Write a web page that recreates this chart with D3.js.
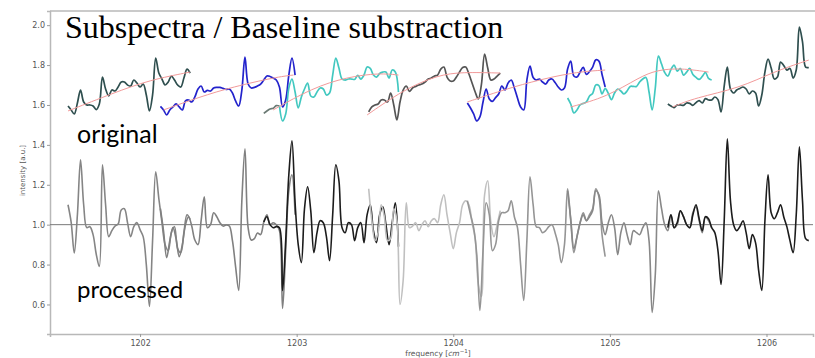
<!DOCTYPE html>
<html>
<head>
<meta charset="utf-8">
<script src="https://cdn.jsdelivr.net/npm/d3@7/dist/d3.min.js"></script>
<style>
    body { margin: 0; background: #fff; }
    svg { display: block; }
</style>
</head>
<body>
<div id="chart"></div>
<script>
// Frequency grid step of every subspectrum (cm^-1)
const step = 0.02;

// Raw subspectra: start frequency + intensities on the grid
const rawStarts = [1201.54, 1202.13, 1202.89, 1203.46, 1204.09, 1204.73, 1205.37];
const raw1 = [1.595, 1.575, 1.555, 1.61, 1.675, 1.615, 1.60, 1.60, 1.595, 1.577, 1.605, 1.74, 1.68, 1.645, 1.675, 1.67, 1.69, 1.715, 1.715, 1.70,
    1.695, 1.725, 1.71, 1.69, 1.705, 1.65, 1.57, 1.65, 1.835, 1.76, 1.73, 1.70, 1.715, 1.745, 1.725, 1.70, 1.69, 1.735, 1.78, 1.76];
const raw2 = [1.593, 1.575, 1.55, 1.575, 1.59, 1.605, 1.59, 1.575, 1.62, 1.625, 1.615, 1.64, 1.68, 1.695, 1.665, 1.673, 1.67, 1.685, 1.688, 1.688,
    1.683, 1.678, 1.68, 1.66, 1.62, 1.595, 1.675, 1.84, 1.705, 1.685, 1.688, 1.695, 1.705, 1.725, 1.745, 1.743, 1.735, 1.725, 1.69, 1.59,
    1.625, 1.75, 1.835, 1.75];
const raw3 = [1.595, 1.52, 1.555, 1.685, 1.73, 1.665, 1.585, 1.64, 1.68, 1.71, 1.645, 1.64, 1.665, 1.685, 1.68, 1.65, 1.66, 1.75, 1.835, 1.785,
    1.73, 1.725, 1.73, 1.73, 1.728, 1.748, 1.73, 1.75, 1.79, 1.783, 1.75, 1.74, 1.758, 1.765, 1.765, 1.735, 1.775, 1.765, 1.665];
const raw4 = [1.565, 1.59, 1.60, 1.605, 1.625, 1.625, 1.615, 1.66, 1.60, 1.525, 1.615, 1.675, 1.695, 1.668, 1.685, 1.693, 1.70, 1.705, 1.715, 1.73,
    1.735, 1.745, 1.75, 1.78, 1.79, 1.74, 1.72, 1.72, 1.74, 1.765, 1.788, 1.79, 1.755, 1.71, 1.665, 1.63, 1.705, 1.855, 1.785, 1.725,
    1.73, 1.745, 1.76];
const raw5 = [1.61, 1.585, 1.555, 1.52, 1.54, 1.615, 1.68, 1.63, 1.618, 1.637, 1.655, 1.695, 1.675, 1.71, 1.725, 1.685, 1.635, 1.59, 1.575, 1.725,
    1.795, 1.738, 1.725, 1.73, 1.715, 1.705, 1.725, 1.73, 1.713, 1.69, 1.675, 1.685, 1.78, 1.82, 1.745, 1.74, 1.765, 1.788, 1.753, 1.768,
    1.79, 1.826, 1.82, 1.753, 1.69];
const raw6 = [1.635, 1.605, 1.56, 1.575, 1.60, 1.608, 1.615, 1.645, 1.658, 1.70, 1.697, 1.655, 1.683, 1.658, 1.627, 1.66, 1.68, 1.67, 1.655, 1.67,
    1.693, 1.693, 1.693, 1.715, 1.73, 1.738, 1.665, 1.575, 1.685, 1.845, 1.805, 1.763, 1.745, 1.778, 1.80, 1.77, 1.783, 1.75, 1.765, 1.783,
    1.753, 1.738, 1.728, 1.743, 1.763, 1.733, 1.725];
const raw7 = [1.605, 1.595, 1.587, 1.60, 1.60, 1.598, 1.61, 1.608, 1.598, 1.612, 1.622, 1.61, 1.632, 1.625, 1.625, 1.64, 1.627, 1.565, 1.695, 1.79,
    1.68, 1.66, 1.675, 1.683, 1.69, 1.68, 1.655, 1.67, 1.66, 1.595, 1.65, 1.765, 1.83, 1.785, 1.73, 1.74, 1.815, 1.798, 1.775, 1.783,
    1.735, 1.775, 1.99, 1.916, 1.79, 1.788];

// Short grey piece in front of the third subspectrum
const stubStart = 1202.79;
const stub = [1.558, 1.57, 1.58, 1.583, 1.597, 1.595];

// Fitted baselines: [frequency, intensity]
const base1 = [[1201.54, 1.57], [1201.83, 1.66], [1202.06, 1.725], [1202.32, 1.765]];
const base2 = [[1202.15, 1.575], [1202.38, 1.64], [1202.59, 1.69], [1202.87, 1.74], [1202.98, 1.75]];
const base3 = [[1202.85, 1.575], [1203.10, 1.685], [1203.32, 1.74], [1203.53, 1.76], [1203.65, 1.75]];
const base4 = [[1203.45, 1.55], [1203.68, 1.675], [1203.90, 1.75], [1204.06, 1.765], [1204.30, 1.76]];
const base5 = [[1204.09, 1.615], [1204.28, 1.665], [1204.49, 1.715], [1204.77, 1.765], [1204.97, 1.775]];
const base6 = [[1204.75, 1.59], [1204.98, 1.64], [1205.19, 1.74], [1205.30, 1.775], [1205.45, 1.785], [1205.63, 1.765]];
const base7 = [[1205.40, 1.59], [1205.54, 1.635], [1205.83, 1.685], [1206.04, 1.765], [1206.27, 1.825]];

// Processed (baseline removed, normalised) subspectra
const procStarts = [1201.54, 1202.13, 1202.79, 1203.46, 1204.09, 1204.73, 1205.37];
const proc1 = [1.10, 1.013, 0.858, 1.05, 1.325, 1.10, 0.985, 0.99, 0.95, 0.853, 0.79, 1.30, 1.10, 0.94, 0.97, 0.993, 1.003, 1.074, 1.08, 1.01,
    0.94, 0.99, 1.01, 0.975, 0.94, 0.80, 0.59, 0.92, 1.265, 1.13, 1.01, 0.90, 0.87, 0.96, 0.99, 0.88, 0.86, 0.96, 1.05, 1.025];
const proc2 = [1.08, 0.968, 0.835, 0.92, 0.985, 0.93, 0.84, 0.90, 1.00, 1.04, 0.993, 0.923, 0.90, 1.02, 1.14, 0.985, 1.00, 1.06, 1.04, 1.01,
    0.993, 0.998, 0.993, 0.92, 0.79, 0.67, 1.12, 1.38, 0.985, 0.923, 0.93, 0.958, 0.95, 1.013, 1.05, 1.00, 1.01, 1.00, 0.97, 0.58,
    0.87, 1.17, 1.25, 1.05];
const proc3 = [1.013, 1.04, 1.00, 0.985, 0.99, 0.985, 0.67, 0.92, 1.25, 1.42, 1.11, 0.90, 0.81, 1.08, 1.19, 1.07, 0.86, 0.96, 1.02, 1.01,
    0.94, 0.82, 1.05, 1.30, 1.22, 0.985, 0.96, 1.01, 1.00, 0.92, 0.985, 1.01, 0.91, 1.05, 1.10, 0.97, 0.91, 1.05, 1.09, 1.00,
    0.90, 1.01, 1.11, 0.89];
const proc4 = [1.18, 1.02, 0.92, 0.96, 1.10, 1.04, 0.92, 0.93, 1.08, 1.02, 0.60, 0.72, 1.11, 0.985, 0.993, 1.01, 0.97, 1.00, 1.02, 0.99,
    1.02, 1.03, 1.01, 1.10, 1.15, 1.05, 0.96, 0.88, 0.96, 1.01, 1.10, 1.12, 1.10, 1.01, 0.93, 0.70, 0.64, 1.15, 1.22, 1.01,
    0.94, 1.00, 1.07];
const proc5 = [1.12, 1.05, 0.985, 0.85, 0.57, 0.87, 1.11, 1.05, 0.87, 0.90, 1.02, 1.06, 1.06, 1.07, 1.12, 1.04, 0.985, 0.80, 0.62, 0.92,
    1.24, 1.10, 0.99, 0.985, 0.96, 0.97, 0.99, 1.00, 0.96, 0.90, 0.81, 0.90, 1.18, 1.02, 0.86, 0.94, 1.01, 1.06, 1.02, 1.05,
    1.08, 1.18, 1.14, 0.95, 0.84];
const proc6 = [1.17, 1.03, 0.88, 0.94, 1.01, 1.05, 1.02, 1.04, 1.07, 1.17, 1.15, 1.01, 0.95, 1.01, 1.05, 0.985, 0.85, 0.96, 1.01, 0.95,
    0.90, 0.97, 0.96, 0.95, 0.985, 1.01, 0.92, 0.56, 0.75, 1.17, 1.08, 1.00, 0.97, 1.05, 0.985, 1.00, 1.07, 1.04, 1.00, 0.985,
    1.06, 1.09, 1.02, 0.96, 1.04, 1.02, 0.985];
const proc7 = [0.985, 1.05, 0.985, 1.01, 1.07, 1.04, 1.00, 0.985, 1.05, 1.10, 1.03, 0.97, 1.04, 1.03, 0.985, 0.96, 0.87, 0.70, 1.02, 1.43,
    1.12, 1.00, 0.97, 0.99, 1.02, 0.96, 0.88, 0.95, 0.91, 0.77, 0.67, 1.02, 1.25, 1.06, 1.03, 1.06, 1.10, 1.04, 0.99, 0.92,
    0.86, 1.05, 1.39, 1.12, 0.93, 0.92];

// Tick labels
const xTicks = [1202, 1203, 1204, 1205, 1206];
const yTicks = [0.6, 0.8, 1.0, 1.2, 1.4, 1.6, 1.8, 2.0];

const rawSpectra = [raw1, raw2, raw3, raw4, raw5, raw6, raw7];
const baselines = [base1, base2, base3, base4, base5, base6, base7];
const procSpectra = [proc1, proc2, proc3, proc4, proc5, proc6, proc7];

// Colours
const rawColors = ["#2f4f4f", "#2323cc", "#42c8c0", "#555555", "#2323cc", "#42c8c0", "#2f4f4f"];
const procColors = ["#858585", "#808080", "#1c1c1c", "#c0c0c0", "#959595", "#888888", "#1c1c1c"];
const baseColor = "#f29a9a";
const spineColor = "#b8b8b8";

const width = 815, height = 358;
const plot = {left: 50, right: 813, top: 11, bottom: 334};

const x = d3.scaleLinear().domain([1201.425, 1206.297]).range([plot.left, plot.right]);
const y = d3.scaleLinear().domain([0.452, 2.071]).range([plot.bottom, plot.top]);

// Turn a start frequency + values into [f, v] points
function toPoints(start, values) {
    return values.map((v, i) => [start + i * step, v]);
}

const line = d3.line()
    .x(d => x(d[0]))
    .y(d => y(d[1]))
    .curve(d3.curveCatmullRom.alpha(0.5));

const smooth = d3.line()
    .x(d => x(d[0]))
    .y(d => y(d[1]))
    .curve(d3.curveBasis);

const svg = d3.select("#chart").append("svg")
    .attr("width", width)
    .attr("height", height);

// Axes
const yAxis = svg.append("g")
    .attr("transform", `translate(${plot.left},0)`)
    .call(d3.axisLeft(y).tickValues(yTicks).tickFormat(d3.format(".1f")).tickSize(3).tickPadding(2));
const xAxis = svg.append("g")
    .attr("transform", `translate(0,${plot.bottom})`)
    .call(d3.axisBottom(x).tickValues(xTicks).tickFormat(d3.format("d")).tickSize(3).tickPadding(3));

[xAxis, yAxis].forEach(a => {
    a.select(".domain").attr("stroke", spineColor).attr("stroke-width", 1.5);
    a.selectAll(".tick line").attr("stroke", "#999");
    a.selectAll(".tick text")
        .attr("fill", "#555")
        .style("font-family", "'DejaVu Sans', sans-serif")
        .style("font-size", "8px");
});

// Top spine
svg.append("line")
    .attr("x1", plot.left).attr("x2", width)
    .attr("y1", plot.top).attr("y2", plot.top)
    .attr("stroke", spineColor)
    .attr("stroke-width", 1.5);

// Reference line at 1.0
svg.append("line")
    .attr("x1", plot.left).attr("x2", plot.right)
    .attr("y1", y(1.0)).attr("y2", y(1.0))
    .attr("stroke", "#7a7a7a")
    .attr("stroke-width", 1);

// Processed spectra
svg.append("g").selectAll("path")
    .data(procSpectra)
    .join("path")
    .attr("d", (d, i) => line(toPoints(procStarts[i], d)))
    .attr("fill", "none")
    .attr("stroke", (d, i) => procColors[i])
    .attr("stroke-width", 1.6)
    .attr("stroke-linejoin", "round");

// Raw spectra with baselines
const rawGroup = svg.append("g");
rawGroup.append("path")
    .attr("d", line(toPoints(stubStart, stub)))
    .attr("fill", "none")
    .attr("stroke", "#6b7a74")
    .attr("stroke-width", 1.7);
rawSpectra.forEach((d, i) => {
    rawGroup.append("path")
        .attr("d", line(toPoints(rawStarts[i], d)))
        .attr("fill", "none")
        .attr("stroke", rawColors[i])
        .attr("stroke-width", 1.7)
        .attr("stroke-linejoin", "round");
    rawGroup.append("path")
        .attr("d", smooth(baselines[i]))
        .attr("fill", "none")
        .attr("stroke", baseColor)
        .attr("stroke-width", 1);
});

// Axis labels
svg.append("text")
    .attr("transform", `translate(25,${(plot.top + plot.bottom) / 2 - 2}) rotate(-90)`)
    .attr("text-anchor", "middle")
    .attr("fill", "#555")
    .style("font-family", "'DejaVu Sans', sans-serif")
    .style("font-size", "7px")
    .text("intensity [a.u.]");

const xLabel = svg.append("text")
    .attr("x", 438)
    .attr("y", 356)
    .attr("text-anchor", "middle")
    .attr("fill", "#555")
    .style("font-family", "'DejaVu Sans', sans-serif")
    .style("font-size", "7.5px");
xLabel.append("tspan").text("frequency [");
xLabel.append("tspan").style("font-style", "italic").text("cm");
xLabel.append("tspan").attr("dy", -3).style("font-size", "5.5px").text("−1");
xLabel.append("tspan").attr("dy", 3).text("]");

// Annotations
svg.append("text")
    .attr("x", 65)
    .attr("y", 38)
    .style("font-family", "'Liberation Serif', 'Times New Roman', serif")
    .style("font-size", "32px")
    .attr("fill", "#000")
    .text("Subspectra / Baseline substraction");

svg.append("text")
    .attr("x", 77)
    .attr("y", 143)
    .style("font-family", "Lato, sans-serif")
    .style("font-size", "25px")
    .attr("fill", "#000")
    .text("original");

svg.append("text")
    .attr("x", 77)
    .attr("y", 298)
    .style("font-family", "Lato, sans-serif")
    .style("font-size", "24px")
    .attr("fill", "#000")
    .text("processed");
</script>
</body>
</html>
